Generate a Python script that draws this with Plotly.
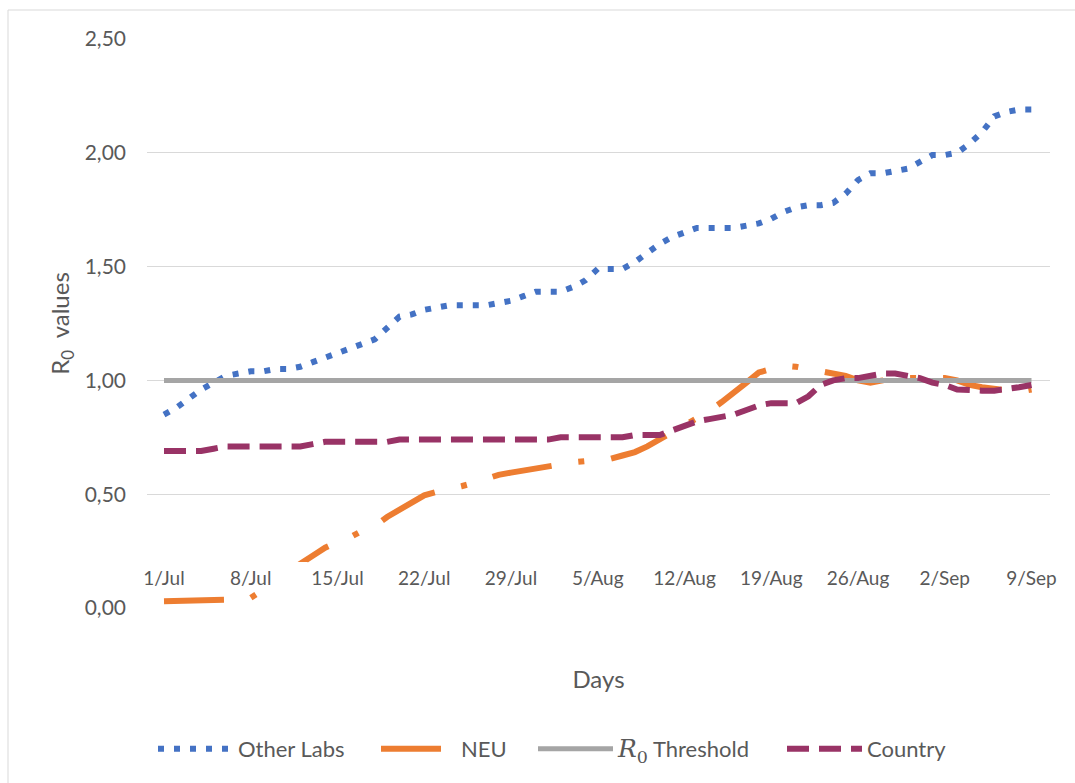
import pandas as pd
import plotly.graph_objects as go

# Daily R0 estimates, 1 Jul - 9 Sep
dates = pd.date_range("2020-07-01", "2020-09-09", freq="D")

other_labs = [
    0.85, 0.88, 0.92, 0.96, 0.99, 1.02, 1.03, 1.04, 1.04, 1.05,
    1.05, 1.06, 1.08, 1.10, 1.12, 1.14, 1.16, 1.18, 1.23, 1.28,
    1.29, 1.31, 1.32, 1.33, 1.33, 1.33, 1.33, 1.34, 1.35, 1.37,
    1.39, 1.39, 1.39, 1.41, 1.44, 1.49, 1.49, 1.49, 1.52, 1.56,
    1.60, 1.63, 1.65, 1.67, 1.67, 1.67, 1.67, 1.68, 1.69, 1.71,
    1.74, 1.76, 1.77, 1.77, 1.78, 1.82, 1.88, 1.91, 1.91, 1.92,
    1.93, 1.96, 1.99, 1.99, 2.00, 2.04, 2.09, 2.16, 2.18, 2.19,
    2.19,
]

neu = [
    0.030, 0.030, 0.030, 0.033, 0.035, 0.036, 0.040, 0.045, 0.080, 0.120,
    0.160, 0.195, 0.230, 0.265, 0.290, 0.310, 0.340, 0.360, 0.400, 0.430,
    0.465, 0.495, 0.510, 0.520, 0.535, 0.550, 0.570, 0.585, 0.595, 0.605,
    0.615, 0.625, 0.630, 0.640, 0.645, 0.650, 0.655, 0.670, 0.685, 0.710,
    0.740, 0.770, 0.800, 0.835, 0.865, 0.905, 0.945, 0.990, 1.035, 1.050,
    1.065, 1.060, 1.050, 1.045, 1.030, 1.020, 1.000, 0.990, 1.000, 1.010,
    1.010, 1.010, 1.010, 1.010, 1.000, 0.980, 0.970, 0.965, 0.960, 0.950,
    0.960,
]

country = [
    0.69, 0.69, 0.69, 0.69, 0.70, 0.71, 0.71, 0.71, 0.71, 0.71,
    0.71, 0.71, 0.72, 0.73, 0.73, 0.73, 0.73, 0.73, 0.73, 0.74,
    0.74, 0.74, 0.74, 0.74, 0.74, 0.74, 0.74, 0.74, 0.74, 0.74,
    0.74, 0.74, 0.75, 0.75, 0.75, 0.75, 0.75, 0.75, 0.76, 0.76,
    0.76, 0.78, 0.80, 0.82, 0.83, 0.84, 0.85, 0.87, 0.89, 0.90,
    0.90, 0.90, 0.93, 0.98, 1.00, 1.01, 1.01, 1.02, 1.03, 1.03,
    1.02, 1.01, 0.99, 0.98, 0.96, 0.955, 0.955, 0.955, 0.96, 0.97,
    0.98,
]

R0_THRESHOLD = 1.0
threshold = [R0_THRESHOLD] * len(dates)

TEXT = "#595959"
FONT = "Lato"

fig = go.Figure()
fig.add_trace(go.Scatter(
    x=dates, y=other_labs, mode="lines", name="Other Labs", legend="legend",
    line=dict(color="#4472C4", width=6, dash="6px,10px"),
))
fig.add_trace(go.Scatter(
    x=dates, y=neu, mode="lines", name="NEU", legend="legend2",
    line=dict(color="#ED7D31", width=6, dash="60px,27px,6px,27px"),
))
fig.add_trace(go.Scatter(
    x=dates, y=threshold, mode="lines", legend="legend3",
    name='<span style="font-family:\'DejaVu Serif\';font-size:25px"><i>R</i><sub>0</sub></span> Threshold',
    line=dict(color="#A5A5A5", width=5),
))
fig.add_trace(go.Scatter(
    x=dates, y=country, mode="lines", name="Country", legend="legend4",
    line=dict(color="#993366", width=6, dash="22px,10px"),
))

# plot area: x 147..1050, y 39..608 ; day 0 at x=164, day 70 at x=1031.5
W, H = 1075, 783
px_per_day = (1031.5 - 164) / 70
x_lo = dates[0] - pd.Timedelta(days=(164 - 147) / px_per_day)
x_hi = dates[-1] + pd.Timedelta(days=(1050 - 1031.5) / px_per_day)


def legend_at(px_x):
    return dict(
        orientation="h", xref="container", yref="container",
        x=px_x / W, xanchor="left", y=1 - 749 / H, yanchor="middle",
        font=dict(family=FONT, size=22, color=TEXT),
        itemwidth=75, bgcolor="rgba(0,0,0,0)",
    )


# the tick-label band hides the NEU line between the 8/Jul and 15/Jul labels
band_lo, band_hi = 0.06, 0.202
gap_start = dates[0] + pd.Timedelta(days=8.65)
gap_end = dates[0] + pd.Timedelta(days=11.6)

fig.update_layout(
    width=W, height=H,
    margin=dict(l=147, r=25, t=39, b=175, autoexpand=False),
    paper_bgcolor="white", plot_bgcolor="white",
    separators=", ",
    font=dict(family=FONT, color=TEXT, size=21),
    showlegend=True,
    legend=legend_at(153),
    legend2=legend_at(376),
    legend3=legend_at(533),
    legend4=legend_at(782),
    xaxis=dict(
        type="date", range=[x_lo, x_hi],
        tick0="2020-07-01", dtick=7 * 86400000, tickformat="%-d/%b",
        showgrid=False, zeroline=False, showline=False, ticks="",
        anchor="free", position=0.0756,
        tickfont=dict(family=FONT, size=19, color=TEXT),
        title=dict(text="Days", font=dict(family=FONT, size=24, color=TEXT), standoff=83),
    ),
    yaxis=dict(
        range=[0, 2.5], dtick=0.5, tickformat=".2f",
        showgrid=True, gridcolor="#D9D9D9", gridwidth=1,
        zeroline=False, showline=False, ticks="",
        ticklabelstandoff=20,
        tickfont=dict(family=FONT, size=21, color=TEXT),
        title=dict(text="R<sub>0</sub>  values", font=dict(family=FONT, size=24, color=TEXT), standoff=8),
    ),
    shapes=[
        dict(type="rect", xref="paper", yref="paper",
             x0=(8 - 147) / 903, x1=1.2, y0=-1, y1=(608 - 10) / 569,
             line=dict(color="#D9D9D9", width=1), fillcolor="rgba(0,0,0,0)", layer="below"),
        dict(type="rect", xref="x", yref="y",
             x0=gap_start, x1=gap_end, y0=band_lo, y1=band_hi,
             line=dict(width=0), fillcolor="white", layer="above"),
    ],
)

fig.write_html("out.html")
